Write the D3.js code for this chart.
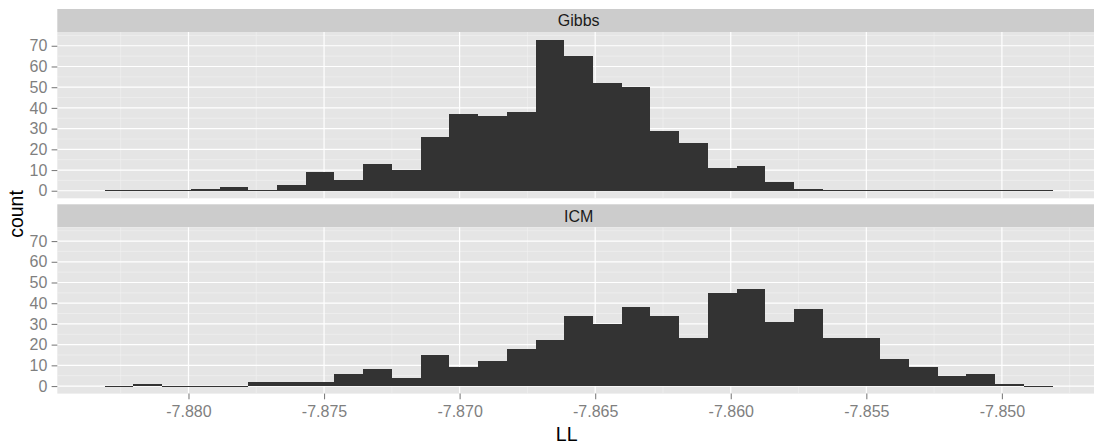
<!DOCTYPE html>
<html>
<head>
<meta charset="utf-8">
<script src="https://cdn.jsdelivr.net/npm/d3@7"></script>
<style>
  body { margin: 0; background: #fff; }
  svg text { font-family: "Liberation Sans", Arial, sans-serif; }
</style>
</head>
<body>
<div id="chart"></div>
<script>
// histogram bins shared by both facets
const facets = ["Gibbs", "ICM"];
const binStart = -7.88309;
const binWidth = 0.0010594;
const gibbsCounts = [0, 0, 0, 1, 2, 0, 3, 9, 5, 13, 10, 26, 37, 36, 38, 73, 65,
                     52, 50, 29, 23, 11, 12, 4, 1, 0, 0, 0, 0, 0, 0, 0, 0];
const icmCounts = [0, 1, 0, 0, 0, 2, 2, 2, 6, 8, 4, 15, 9, 12, 18, 22, 34,
                   30, 38, 34, 23, 45, 47, 31, 37, 23, 23, 13, 9, 5, 6, 1, 0];
const xTicks = [-7.880, -7.875, -7.870, -7.865, -7.860, -7.855, -7.850];
const xMinor = [-7.8825, -7.8775, -7.8725, -7.8675, -7.8625, -7.8575, -7.8525, -7.8475];
const yTicks = [0, 10, 20, 30, 40, 50, 60, 70];
const yMinor = [5, 15, 25, 35, 45, 55, 65, 75];

const countsByFacet = [gibbsCounts, icmCounts];

const width = 1094;
const height = 445;
const panelLeft = 57.3;
const panelRight = 1100;
const stripH = 23;
const panelH = 166.3;
const gap = 6;
const plotTop = 9;

const svg = d3.select("#chart")
    .append("svg")
    .attr("width", width)
    .attr("height", height);

const nBins = gibbsCounts.length;
const lo = binStart;
const hi = binStart + nBins * binWidth;
const xPad = (hi - lo) * 0.05;

const x = d3.scaleLinear()
    .domain([lo - xPad, hi + xPad])
    .range([panelLeft, panelRight]);

const yMax = d3.max(countsByFacet.flat());

facets.forEach((name, k) => {
    const stripTop = plotTop + k * (stripH + panelH + gap);
    const pTop = stripTop + stripH;
    const pBottom = pTop + panelH;
    const counts = countsByFacet[k];

    const y = d3.scaleLinear()
        .domain([-yMax * 0.05, yMax * 1.05])
        .range([pBottom, pTop]);

    const g = svg.append("g");

    // strip
    g.append("rect")
        .attr("x", panelLeft)
        .attr("y", stripTop)
        .attr("width", panelRight - panelLeft)
        .attr("height", stripH)
        .attr("fill", "#cccccc");

    g.append("text")
        .attr("x", (panelLeft + panelRight) / 2)
        .attr("y", stripTop + stripH / 2)
        .attr("dy", "0.36em")
        .attr("text-anchor", "middle")
        .attr("font-size", 16)
        .attr("fill", "#1a1a1a")
        .text(name);

    // panel background and grid
    g.append("rect")
        .attr("x", panelLeft)
        .attr("y", pTop)
        .attr("width", panelRight - panelLeft)
        .attr("height", panelH)
        .attr("fill", "#e5e5e5");

    g.selectAll(".ymin")
        .data(yMinor)
        .join("line")
        .attr("x1", panelLeft).attr("x2", panelRight)
        .attr("y1", d => y(d)).attr("y2", d => y(d))
        .attr("stroke", "#f2f2f2").attr("stroke-width", 0.6);

    g.selectAll(".xmin")
        .data(xMinor)
        .join("line")
        .attr("x1", d => x(d)).attr("x2", d => x(d))
        .attr("y1", pTop).attr("y2", pBottom)
        .attr("stroke", "#f2f2f2").attr("stroke-width", 0.6);

    g.selectAll(".ymaj")
        .data(yTicks)
        .join("line")
        .attr("x1", panelLeft).attr("x2", panelRight)
        .attr("y1", d => y(d)).attr("y2", d => y(d))
        .attr("stroke", "#ffffff").attr("stroke-width", 1.2);

    g.selectAll(".xmaj")
        .data(xTicks)
        .join("line")
        .attr("x1", d => x(d)).attr("x2", d => x(d))
        .attr("y1", pTop).attr("y2", pBottom)
        .attr("stroke", "#ffffff").attr("stroke-width", 1.2);

    // bars
    g.selectAll(".bar")
        .data(counts)
        .join("rect")
        .attr("x", (d, i) => x(binStart + i * binWidth))
        .attr("width", (d, i) => x(binStart + (i + 1) * binWidth) - x(binStart + i * binWidth))
        .attr("y", d => d > 0 ? y(d) : y(0) - 0.5)
        .attr("height", d => d > 0 ? y(0) - y(d) : 1)
        .attr("fill", "#333333")
        .attr("shape-rendering", "crispEdges");

    // y axis
    const yAxis = g.append("g")
        .attr("transform", `translate(${panelLeft},0)`)
        .call(d3.axisLeft(y).tickValues(yTicks).tickSize(5.7).tickPadding(4.3));
    yAxis.select(".domain").remove();
    yAxis.selectAll("line").attr("stroke", "#7f7f7f").attr("stroke-width", 1.1);
    yAxis.selectAll("text")
        .attr("fill", "#7f7f7f")
        .attr("font-size", 16)
        .attr("font-family", "Liberation Sans, Arial, sans-serif");

    // x axis under the last panel
    if (k === facets.length - 1) {
        const xAxis = g.append("g")
            .attr("transform", `translate(0,${pBottom})`)
            .call(d3.axisBottom(x).tickValues(xTicks).tickSize(5.7).tickPadding(6.3)
                .tickFormat(d => d.toFixed(3)));
        xAxis.select(".domain").remove();
        xAxis.selectAll("line").attr("stroke", "#7f7f7f").attr("stroke-width", 1.1);
        xAxis.selectAll("text")
            .attr("fill", "#7f7f7f")
            .attr("font-size", 16)
            .attr("font-family", "Liberation Sans, Arial, sans-serif");
    }
});

// axis titles
svg.append("text")
    .attr("x", (panelLeft + panelRight) / 2 - 12)
    .attr("y", 441)
    .attr("text-anchor", "middle")
    .attr("font-size", 19.5)
    .attr("fill", "#000")
    .text("LL");

svg.append("text")
    .attr("transform", "translate(23.3,214) rotate(-90)")
    .attr("text-anchor", "middle")
    .attr("font-size", 19.5)
    .attr("fill", "#000")
    .text("count");
</script>
</body>
</html>
